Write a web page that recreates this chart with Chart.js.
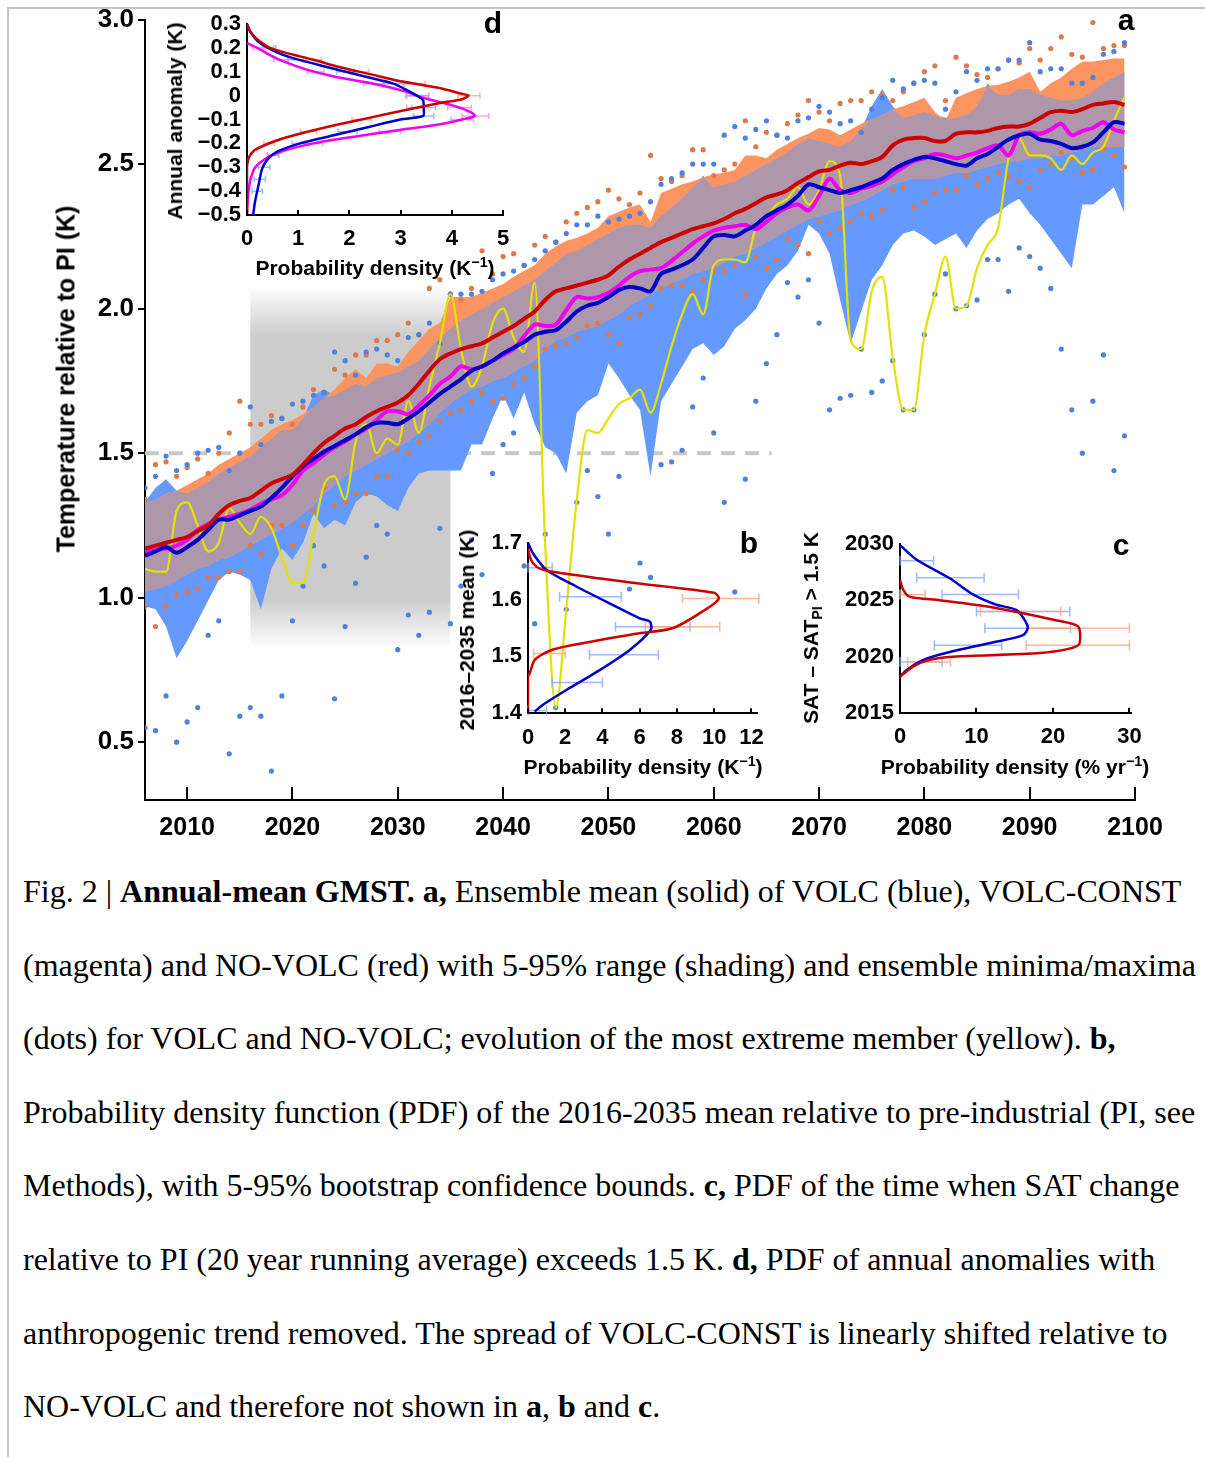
<!DOCTYPE html>
<html>
<head>
<meta charset="utf-8">
<script src="https://cdn.jsdelivr.net/npm/chart.js@4.4.0/dist/chart.umd.min.js"></script>
<style>
  body { margin: 0; background: #fff; width: 1205px; height: 1457px; position: relative; overflow: hidden; font-family: "Liberation Sans", Arial, sans-serif; }
  .frame-top { position: absolute; left: 7px; top: 7px; width: 1198px; height: 2px; background: #c4c4c4; }
  .frame-left { position: absolute; left: 7px; top: 7px; width: 2px; height: 1450px; background: #c4c4c4; }
  canvas { position: absolute; }
  .lbl { position: absolute; font-weight: bold; color: #000; white-space: nowrap; transform: translate(-50%, -50%); }
  .rot { transform: translate(-50%, -50%) rotate(-90deg); }
  .lbl sup { font-size: 0.68em; vertical-align: 0.55em; line-height: 0; }
  .lbl sub { font-size: 0.68em; vertical-align: -0.25em; line-height: 0; }
  .caption { position: absolute; left: 23px; top: 855px; font-family: "Liberation Serif", "Times New Roman", serif; font-size: 32px; line-height: 73.6px; white-space: nowrap; color: #000; }
</style>
</head>
<body>
<div class="frame-top"></div>
<div class="frame-left"></div>

<canvas id="main" width="1205" height="850" style="left:0;top:0"></canvas>
<canvas id="insetD" width="360" height="260" style="left:180px;top:0"></canvas>
<canvas id="insetB" width="320" height="240" style="left:460px;top:520px"></canvas>
<canvas id="insetC" width="340" height="240" style="left:820px;top:520px"></canvas>

<div class="lbl rot" style="left:66px;top:379px;font-size:25px">Temperature relative to PI (K)</div>
<div class="lbl" style="left:1126px;top:20px;font-size:30px">a</div>

<div class="lbl" style="left:493px;top:23px;font-size:30px">d</div>
<div class="lbl rot" style="left:175px;top:121px;font-size:21px">Annual anomaly (K)</div>
<div class="lbl" style="left:375px;top:268px;font-size:21px">Probability density (K<sup>−1</sup>)</div>

<div class="lbl" style="left:749px;top:543px;font-size:30px">b</div>
<div class="lbl rot" style="left:467px;top:630px;font-size:21px">2016–2035 mean (K)</div>
<div class="lbl" style="left:643px;top:767px;font-size:21px">Probability density (K<sup>−1</sup>)</div>

<div class="lbl" style="left:1121px;top:545px;font-size:30px">c</div>
<div class="lbl rot" style="left:811px;top:628px;font-size:21px">SAT – SAT<sub>PI</sub> &gt; 1.5 K</div>
<div class="lbl" style="left:1015px;top:767px;font-size:21px">Probability density (% yr<sup>−1</sup>)</div>

<div class="caption">Fig. 2 | <b>Annual-mean GMST. a,</b> Ensemble mean (solid) of VOLC (blue), VOLC-CONST<br>(magenta) and NO-VOLC (red) with 5-95% range (shading) and ensemble minima/maxima<br>(dots) for VOLC and NO-VOLC; evolution of the most extreme member (yellow). <b>b,</b><br>Probability density function (PDF) of the 2016-2035 mean relative to pre-industrial (PI, see<br>Methods), with 5-95% bootstrap confidence bounds. <b>c,</b> PDF of the time when SAT change<br>relative to PI (20 year running average) exceeds 1.5 K. <b>d,</b> PDF of annual anomalies with<br>anthropogenic trend removed. The spread of VOLC-CONST is linearly shifted relative to<br>NO-VOLC and therefore not shown in <b>a</b>, <b>b</b> and <b>c</b>.</div>

<script>
// ---------- panel a: annual GMST (K relative to PI) ----------
const years = [2006,2007,2008,2009,2010,2011,2012,2013,2014,2015,
  2016,2017,2018,2019,2020,2021,2022,2023,2024,2025,
  2026,2027,2028,2029,2030,2031,2032,2033,2034,2035,
  2036,2037,2038,2039,2040,2041,2042,2043,2044,2045,
  2046,2047,2048,2049,2050,2051,2052,2053,2054,2055,
  2056,2057,2058,2059,2060,2061,2062,2063,2064,2065,
  2066,2067,2068,2069,2070,2071,2072,2073,2074,2075,
  2076,2077,2078,2079,2080,2081,2082,2083,2084,2085,
  2086,2087,2088,2089,2090,2091,2092,2093,2094,2095,
  2096,2097,2098,2099];

const noVolcMean = [1.17,1.18,1.19,1.20,1.21,1.23,1.25,1.29,1.32,1.335,
  1.345,1.37,1.395,1.41,1.425,1.46,1.50,1.535,1.56,1.585,
  1.60,1.625,1.645,1.66,1.675,1.70,1.74,1.785,1.825,1.845,
  1.86,1.87,1.88,1.90,1.92,1.94,1.965,1.99,2.03,2.06,
  2.07,2.08,2.09,2.10,2.115,2.145,2.17,2.19,2.21,2.23,
  2.245,2.26,2.275,2.285,2.295,2.31,2.33,2.345,2.365,2.385,
  2.395,2.41,2.435,2.455,2.475,2.48,2.495,2.505,2.50,2.51,
  2.525,2.565,2.585,2.59,2.59,2.58,2.58,2.605,2.61,2.61,
  2.615,2.625,2.63,2.63,2.64,2.66,2.68,2.685,2.68,2.69,
  2.705,2.71,2.715,2.705];

const volcMean = [1.145,1.16,1.175,1.155,1.175,1.20,1.235,1.27,1.27,1.285,
  1.30,1.315,1.345,1.38,1.42,1.455,1.48,1.505,1.525,1.545,
  1.565,1.59,1.605,1.605,1.60,1.62,1.645,1.675,1.705,1.73,
  1.755,1.785,1.80,1.82,1.845,1.865,1.885,1.91,1.92,1.925,
  1.955,1.99,2.01,2.02,2.04,2.065,2.075,2.07,2.06,2.12,
  2.135,2.15,2.17,2.21,2.25,2.255,2.25,2.27,2.29,2.32,
  2.34,2.36,2.39,2.43,2.42,2.41,2.40,2.41,2.42,2.435,
  2.45,2.48,2.50,2.515,2.525,2.52,2.51,2.50,2.495,2.52,
  2.535,2.56,2.585,2.60,2.605,2.585,2.58,2.57,2.555,2.56,
  2.575,2.61,2.645,2.64];

const volcConstMean = [1.155,1.165,1.17,1.18,1.20,1.235,1.255,1.27,1.28,1.29,
  1.305,1.325,1.34,1.355,1.39,1.44,1.465,1.495,1.52,1.54,
  1.565,1.585,1.615,1.645,1.645,1.635,1.665,1.70,1.74,1.765,
  1.80,1.79,1.80,1.82,1.84,1.86,1.905,1.945,1.94,1.945,
  1.995,2.04,2.035,2.04,2.055,2.08,2.11,2.13,2.135,2.14,
  2.165,2.195,2.225,2.25,2.27,2.28,2.285,2.29,2.275,2.30,
  2.33,2.35,2.36,2.34,2.39,2.45,2.41,2.40,2.415,2.425,
  2.44,2.465,2.49,2.51,2.52,2.535,2.53,2.52,2.53,2.54,
  2.555,2.565,2.53,2.60,2.61,2.605,2.62,2.64,2.60,2.615,
  2.625,2.645,2.62,2.61];

// 5-95% ranges
const noVolcHi = [1.33,1.34,1.36,1.37,1.39,1.41,1.43,1.46,1.48,1.50,
  1.52,1.55,1.58,1.60,1.615,1.635,1.66,1.69,1.72,1.76,
  1.79,1.76,1.81,1.81,1.80,1.85,1.89,1.93,1.95,2.04,
  2.04,2.04,2.055,2.07,2.085,2.11,2.13,2.15,2.19,2.215,
  2.235,2.245,2.26,2.28,2.32,2.335,2.35,2.36,2.30,2.40,
  2.415,2.43,2.44,2.455,2.465,2.47,2.48,2.53,2.53,2.52,
  2.55,2.57,2.59,2.605,2.625,2.62,2.60,2.62,2.64,2.655,
  2.67,2.69,2.70,2.715,2.73,2.68,2.65,2.73,2.745,2.76,
  2.77,2.775,2.785,2.80,2.82,2.75,2.78,2.80,2.83,2.855,
  2.855,2.86,2.865,2.865];

const noVolcLo = [1.02,1.03,1.04,1.06,1.08,1.10,1.11,1.13,1.14,1.16,
  1.18,1.20,1.22,1.24,1.26,1.29,1.32,1.36,1.39,1.42,
  1.44,1.46,1.48,1.50,1.52,1.54,1.57,1.60,1.64,1.67,
  1.70,1.72,1.73,1.75,1.76,1.78,1.80,1.82,1.86,1.89,
  1.90,1.92,1.93,1.94,1.96,1.98,2.01,2.03,2.05,2.07,
  2.09,2.10,2.12,2.13,2.14,2.16,2.18,2.19,2.21,2.23,
  2.25,2.27,2.29,2.31,2.32,2.33,2.34,2.36,2.37,2.39,
  2.41,2.43,2.44,2.45,2.45,2.45,2.46,2.47,2.47,2.48,
  2.49,2.50,2.51,2.51,2.52,2.52,2.53,2.53,2.54,2.55,
  2.56,2.56,2.56,2.56];

const volcHi = [1.33,1.38,1.41,1.37,1.36,1.38,1.40,1.43,1.45,1.47,
  1.49,1.52,1.55,1.58,1.58,1.62,1.70,1.72,1.70,1.72,
  1.74,1.73,1.76,1.77,1.78,1.80,1.82,1.86,1.90,1.93,
  1.96,1.98,2.00,2.02,2.04,2.06,2.08,2.10,2.13,2.16,
  2.19,2.20,2.22,2.24,2.26,2.28,2.29,2.29,2.28,2.32,
  2.35,2.38,2.42,2.46,2.42,2.43,2.44,2.46,2.48,2.50,
  2.52,2.54,2.57,2.59,2.58,2.57,2.56,2.58,2.62,2.70,
  2.76,2.70,2.66,2.67,2.68,2.67,2.66,2.66,2.67,2.70,
  2.78,2.74,2.74,2.76,2.76,2.74,2.73,2.72,2.72,2.73,
  2.75,2.78,2.80,2.82];

const volcLo = [0.97,0.96,0.90,0.79,0.85,0.92,0.99,1.06,1.09,1.08,
  1.06,0.96,1.10,1.17,1.13,1.19,1.29,1.24,1.27,1.25,
  1.33,1.36,1.35,1.32,1.30,1.38,1.43,1.44,1.44,1.44,
  1.44,1.53,1.53,1.62,1.70,1.62,1.71,1.60,1.52,1.50,
  1.43,1.64,1.68,1.70,1.81,1.76,1.70,1.65,1.42,1.68,
  1.74,1.80,1.86,1.88,1.84,1.87,1.93,1.96,2.00,2.07,
  2.12,2.15,2.20,2.29,2.26,2.19,2.03,1.88,1.99,2.10,
  2.15,2.22,2.26,2.27,2.25,2.22,2.24,2.26,2.21,2.27,
  2.31,2.33,2.36,2.38,2.33,2.29,2.24,2.19,2.14,2.36,
  2.36,2.39,2.42,2.33];

// ensemble maxima / minima (dots)
const noVolcMax = [1.34,1.46,1.47,1.42,1.45,1.48,1.43,1.50,1.57,1.68,
  1.60,1.60,1.63,1.62,1.60,1.66,1.72,1.71,1.79,1.77,
  1.84,1.84,1.89,1.89,1.91,1.95,1.91,2.07,2.10,2.05,
  2.03,2.07,2.20,2.12,2.18,2.19,2.15,2.22,2.25,2.23,
  2.30,2.33,2.35,2.37,2.41,2.38,2.36,2.40,2.53,2.45,
  2.44,2.46,2.55,2.55,2.46,2.48,2.50,2.65,2.56,2.61,
  2.60,2.64,2.67,2.72,2.68,2.65,2.71,2.72,2.72,2.75,
  2.74,2.72,2.75,2.78,2.82,2.84,2.72,2.87,2.84,2.81,
  2.80,2.83,2.86,2.85,2.90,2.86,2.90,2.94,2.88,2.87,
  2.99,2.90,2.91,2.91];

const noVolcMin = [0.97,0.90,0.97,1.01,1.02,1.03,1.07,1.07,1.09,1.09,
  1.18,1.15,1.25,1.25,1.18,1.25,1.30,1.38,1.32,1.33,
  1.36,1.36,1.42,1.42,1.51,1.50,1.54,1.56,1.61,1.64,
  1.65,1.68,1.71,1.68,1.69,1.74,1.76,1.80,1.86,1.87,
  1.88,1.90,1.94,1.95,1.91,1.88,1.97,1.98,2.01,2.07,
  2.08,2.08,2.06,2.10,2.13,2.13,2.15,2.05,2.18,2.14,
  2.17,2.24,2.22,2.19,2.30,2.26,2.28,2.30,2.33,2.32,
  2.34,2.41,2.42,2.35,2.37,2.40,2.41,2.41,2.46,2.43,
  2.45,2.47,2.46,2.44,2.42,2.48,2.50,2.54,2.52,2.47,
  2.48,2.55,2.53,2.49];

const volcMax = [1.38,1.42,1.49,1.44,1.46,1.50,1.51,1.52,1.44,1.50,
  1.66,1.53,1.61,1.62,1.67,1.68,1.70,1.71,1.85,1.82,
  1.77,1.85,1.86,1.84,1.82,1.90,1.91,1.95,1.88,2.05,
  2.05,2.05,2.06,2.10,2.12,2.13,2.15,2.17,2.20,2.23,
  2.26,2.29,2.29,2.32,2.30,2.31,2.32,2.33,2.37,2.43,
  2.45,2.47,2.50,2.50,2.50,2.60,2.63,2.59,2.62,2.65,
  2.60,2.59,2.65,2.66,2.70,2.68,2.64,2.65,2.61,2.69,
  2.73,2.79,2.76,2.78,2.79,2.78,2.69,2.75,2.82,2.79,
  2.83,2.83,2.86,2.86,2.92,2.82,2.83,2.83,2.78,2.78,
  2.80,2.88,2.89,2.92];

const volcMin = [0.55,0.54,0.66,0.50,0.57,0.62,0.87,0.92,0.46,0.59,
  0.62,0.59,0.40,0.66,0.92,1.04,1.18,1.11,0.65,0.90,
  1.05,1.14,1.25,1.22,0.82,0.94,0.87,0.95,1.24,0.91,
  1.04,1.20,1.08,1.43,1.53,1.57,1.11,0.91,1.22,0.62,
  0.96,1.33,1.44,1.35,1.22,1.42,1.03,1.12,1.07,1.46,
  1.47,1.51,1.66,1.76,1.57,1.33,1.02,1.41,1.68,1.81,
  1.91,2.09,2.04,2.10,1.95,1.65,1.69,1.70,1.86,1.71,
  1.75,1.82,1.65,1.65,1.91,2.05,2.12,2.00,2.01,2.03,
  2.17,2.17,2.06,2.21,2.18,2.14,2.07,1.86,1.65,1.50,
  1.68,1.84,1.44,1.56];

// most extreme VOLC member
const extremeMember = [1.10,1.09,1.09,1.30,1.33,1.25,1.16,1.19,1.31,1.26,
  1.22,1.28,1.24,1.14,1.05,1.05,1.22,1.39,1.42,1.34,
  1.54,1.60,1.50,1.55,1.53,1.68,1.57,1.73,1.88,2.05,
  1.86,1.73,1.80,1.95,2.00,1.90,1.85,2.09,1.18,0.62,
  0.96,1.34,1.58,1.57,1.62,1.67,1.69,1.72,1.64,1.74,
  1.87,1.98,2.05,1.98,2.15,2.17,2.17,2.16,2.28,2.32,
  2.36,2.38,2.42,2.36,2.41,2.51,2.46,1.89,1.86,2.06,
  2.11,1.83,1.65,1.65,1.91,2.05,2.18,2.00,2.01,2.14,
  2.22,2.28,2.52,2.59,2.53,2.53,2.52,2.48,2.53,2.50,
  2.54,2.56,2.65,2.73];

const yearTicks = [2010,2020,2030,2040,2050,2060,2070,2080,2090,2100];
const tempTicks = [0.5,1.0,1.5,2.0,2.5,3.0];
const thresholdK = 1.5;
const thresholdYears = [2006, 2065.5];
const periodYears = [2016, 2035];
const periodShadeK = [0.82, 2.08];

// ---------- panel b: PDF of 2016-2035 mean ----------
const bRedK   = [1.69,1.675,1.664,1.655,1.648,1.63,1.612,1.602,1.587,1.55,1.54,1.52,1.51,1.494,1.47,1.465,1.40];
const bRedPdf = [0.0,0.1,0.27,0.6,1.5,5.5,10.0,10.25,9.75,7.8,5.8,2.4,1.16,0.36,0.09,0.0,0.0];
const bBlueK   = [1.70,1.681,1.652,1.623,1.593,1.567,1.561,1.547,1.511,1.476,1.441,1.415,1.403];
const bBluePdf = [0.0,0.27,1.0,2.6,4.4,6.0,6.55,6.6,5.45,3.85,2.06,0.8,0.36];
const bRedErrK = [1.602,1.552,1.505];
const bRedErrLo = [8.3,6.3,0.3];
const bRedErrHi = [12.4,10.3,2.0];
const bBlueErrK = [1.656,1.605,1.552,1.503,1.454,1.405];
const bBlueErrLo = [0.0,1.7,4.7,3.3,1.3,0.0];
const bBlueErrHi = [1.3,5.0,8.7,7.0,4.0,1.0];
const bPdfTicks = [0,2,4,6,8,10,12];
const bKTicks = [1.4,1.5,1.6,1.7];

// ---------- panel c: PDF of year when 1.5 K is exceeded ----------
const cBlueYear = [2029.9,2028.6,2026.95,2025.5,2024.6,2024.1,2022.65,2021.9,2021.2,2020.4,2019.7,2018.8,2018.2];
const cBluePdf  = [0.0,2.18,6.5,9.6,12.6,15.3,16.7,16.1,11.8,6.5,3.05,0.87,0.0];
const cRedYear = [2026.8,2025.9,2025.3,2025.0,2024.4,2023.2,2022.65,2021.0,2020.3,2020.0,2019.7,2019.1,2018.2];
const cRedPdf  = [0.0,0.44,1.3,5.2,11.8,20.5,23.3,23.3,18.3,7.4,3.9,1.7,0.0];
const cBlueErrYear = [2028.5,2027.0,2025.5,2024.0,2022.5,2021.0,2019.5];
const cBlueErrLo = [0,2.2,5.5,10,11.1,4.5,0];
const cBlueErrHi = [4.4,11.0,15.5,22.2,22.3,13.3,5.5];
const cRedErrYear = [2025.5,2024.0,2022.5,2021.0,2019.5];
const cRedErrLo = [0,10.5,16.7,16.5,1.0];
const cRedErrHi = [3.3,21.0,30,30,6.6];
const cPdfTicks = [0,10,20,30];
const cYearTicks = [2015,2020,2025,2030];

// ---------- panel d: PDF of detrended annual anomalies ----------
const dRedK   = [0.30,0.28,0.26,0.24,0.22,0.20,0.18,0.15,0.12,0.09,0.06,0.03,0.01,0.00,-0.015,-0.03,-0.06,-0.09,-0.12,-0.15,-0.17,-0.19,-0.21,-0.23,-0.25,-0.27,-0.30,-0.40,-0.50];
const dRedPdf = [0.00,0.03,0.09,0.18,0.30,0.45,0.75,1.30,1.80,2.40,3.00,3.80,4.15,4.33,4.20,3.80,3.10,2.45,1.80,1.20,0.85,0.55,0.32,0.14,0.06,0.02,0.00,0.00,0.00];
const dMagK   = [0.22,0.20,0.17,0.14,0.11,0.08,0.05,0.02,-0.01,-0.04,-0.07,-0.085,-0.10,-0.12,-0.14,-0.16,-0.18,-0.20,-0.22,-0.24,-0.26,-0.30,-0.35,-0.40,-0.45,-0.50];
const dMagPdf = [0.00,0.20,0.45,0.75,1.15,1.70,2.47,3.05,3.45,4.00,4.38,4.45,4.20,3.78,3.10,2.47,1.85,1.30,0.90,0.60,0.39,0.16,0.07,0.03,0.01,0.00];
const dBlueK   = [0.30,0.27,0.24,0.22,0.19,0.16,0.12,0.08,0.05,0.02,0.00,-0.02,-0.05,-0.085,-0.10,-0.13,-0.16,-0.20,-0.235,-0.27,-0.31,-0.37,-0.44,-0.50];
const dBluePdf = [0.00,0.06,0.16,0.26,0.50,0.85,1.56,2.30,2.86,3.15,3.32,3.44,3.45,3.44,3.00,2.40,1.82,1.04,0.59,0.39,0.29,0.23,0.16,0.12];
const dRedErrK = [0.2,0.15,0.1,0.05,0.0,-0.05,-0.1,-0.15,-0.2];
const dRedErrLo = [0.35,1.15,2.02,3.08,4.12,3.12,2.05,1.05,0.33];
const dRedErrHi = [0.56,1.45,2.38,3.48,4.55,3.55,2.42,1.36,0.54];
const dMagErrK = [0.2,0.15,0.1,0.05,0.0,-0.05,-0.085,-0.1,-0.15,-0.2,-0.25];
const dMagErrLo = [0.12,0.52,1.18,2.28,3.12,3.92,4.2,3.98,2.58,1.14,0.4];
const dMagErrHi = [0.3,0.8,1.5,2.68,3.55,4.38,4.72,4.42,3.0,1.48,0.62];
const dBlueErrK = [0.2,0.15,0.1,0.05,0.0,-0.05,-0.085,-0.15,-0.2,-0.25,-0.3,-0.35,-0.4];
const dBlueErrLo = [0.32,0.8,1.75,2.65,3.1,3.22,3.25,1.78,0.88,0.4,0.22,0.14,0.1];
const dBlueErrHi = [0.52,1.1,2.1,3.05,3.55,3.68,3.65,2.15,1.2,0.62,0.45,0.36,0.3];
const dPdfTicks = [0,1,2,3,4,5];
const dKTicks = [-0.5,-0.4,-0.3,-0.2,-0.1,0,0.1,0.2,0.3];

// colours
const RED = "#cc0000", BLUE = "#0000c8", MAGENTA = "#f000f0", YELLOW = "#e2e200";
const BLUE_BAND = "#6699fd", ORANGE_BAND = "#fc9462", MAUVE = "#ae97ab";
const BLUE_DOT = "#4f82de", ORANGE_DOT = "#dc7a4c";
const ERR_BLUE = "rgba(120,165,250,0.75)", ERR_RED = "rgba(252,170,130,0.85)", ERR_MAG = "rgba(245,130,245,0.75)";

Chart.defaults.font.family = '"Liberation Sans", Arial, sans-serif';
Chart.defaults.color = "#000";

const pts = (xs, ys) => xs.map((x, i) => ({ x: x, y: ys[i] }));
const pdfPts = (pdf, vals) => pdf.map((p, i) => ({ x: p, y: vals[i] })); // density on x, value on y

// overlap of the two 5-95% ranges (mauve)
const overlapLo = years.map((_, i) => Math.max(noVolcLo[i], volcLo[i]));
const overlapHi = years.map((_, i) => Math.max(overlapLo[i], Math.min(noVolcHi[i], volcHi[i])));

// grey box for 2016-2035
const greyBox = {
  id: "greyBox",
  beforeDatasetsDraw(chart) {
    const { ctx, scales: { x, y } } = chart;
    const x0 = x.getPixelForValue(periodYears[0]), x1 = x.getPixelForValue(periodYears[1]);
    const yT = y.getPixelForValue(periodShadeK[1]), yB = y.getPixelForValue(periodShadeK[0]);
    const g = ctx.createLinearGradient(0, yT, 0, yB);
    g.addColorStop(0, "rgba(204,204,204,0)");
    g.addColorStop(0.14, "rgba(204,204,204,1)");
    g.addColorStop(0.86, "rgba(204,204,204,1)");
    g.addColorStop(1, "rgba(204,204,204,0)");
    ctx.save();
    ctx.fillStyle = g;
    ctx.fillRect(x0, yT, x1 - x0, yB - yT);
    ctx.restore();
  }
};

// x ticks pointing into the plot
function inwardTicks(len) {
  return {
    id: "inwardTicks",
    afterDraw(chart) {
      const { ctx, scales: { x }, chartArea } = chart;
      ctx.save();
      ctx.strokeStyle = "#000";
      ctx.lineWidth = 2;
      x.ticks.forEach(t => {
        const px = Math.round(x.getPixelForValue(t.value));
        ctx.beginPath();
        ctx.moveTo(px, chartArea.bottom);
        ctx.lineTo(px, chartArea.bottom - len);
        ctx.stroke();
      });
      ctx.restore();
    }
  };
}

// horizontal bootstrap bounds
function errorBars(sets, cap) {
  return {
    id: "errorBars",
    beforeDatasetsDraw(chart) {
      const { ctx, scales: { x, y } } = chart;
      ctx.save();
      ctx.lineWidth = 1.5;
      sets.forEach(s => {
        ctx.strokeStyle = s.color;
        s.at.forEach((v, i) => {
          const py = y.getPixelForValue(v);
          const a = x.getPixelForValue(s.lo[i]), b = x.getPixelForValue(s.hi[i]);
          ctx.beginPath();
          ctx.moveTo(a, py); ctx.lineTo(b, py);
          ctx.moveTo(a, py - cap); ctx.lineTo(a, py + cap);
          ctx.moveTo(b, py - cap); ctx.lineTo(b, py + cap);
          ctx.stroke();
        });
      });
      ctx.restore();
    }
  };
}

const hidden = { borderWidth: 0, pointRadius: 0, fill: false };
const dots = color => ({ showLine: false, pointRadius: 2.6, pointBorderWidth: 0, pointBackgroundColor: color, borderColor: color });

new Chart(document.getElementById("main"), {
  type: "line",
  data: {
    datasets: [
      { data: pts(years, overlapLo), ...hidden, order: 20 },                                              // 0
      { data: pts(years, overlapHi), borderWidth: 0, pointRadius: 0, fill: { target: 0 }, backgroundColor: MAUVE, order: 8 },   // 1
      { data: pts(years, noVolcLo), ...hidden, order: 20 },                                               // 2
      { data: pts(years, noVolcHi), borderWidth: 0, pointRadius: 0, fill: { target: 2 }, backgroundColor: ORANGE_BAND, order: 9 }, // 3
      { data: pts(years, volcLo), ...hidden, order: 20 },                                                 // 4
      { data: pts(years, volcHi), borderWidth: 0, pointRadius: 0, fill: { target: 4 }, backgroundColor: BLUE_BAND, order: 10 },   // 5
      { data: pts(thresholdYears, [thresholdK, thresholdK]), borderColor: "#c8c8c8", borderWidth: 4, borderDash: [14, 10], pointRadius: 0, order: 15 },
      { data: pts(years, volcMax), ...dots(BLUE_DOT), order: 6 },
      { data: pts(years, volcMin), ...dots(BLUE_DOT), order: 6 },
      { data: pts(years, noVolcMax), ...dots(ORANGE_DOT), order: 6 },
      { data: pts(years, noVolcMin), ...dots(ORANGE_DOT), order: 6 },
      { data: pts(years, extremeMember), borderColor: YELLOW, borderWidth: 2.2, pointRadius: 0, cubicInterpolationMode: "monotone", order: 5 },
      { data: pts(years, volcConstMean), borderColor: MAGENTA, borderWidth: 4, pointRadius: 0, tension: 0.3, order: 3 },
      { data: pts(years, volcMean), borderColor: BLUE, borderWidth: 4, pointRadius: 0, tension: 0.3, order: 2 },
      { data: pts(years, noVolcMean), borderColor: RED, borderWidth: 4, pointRadius: 0, tension: 0.3, order: 1 }
    ]
  },
  options: {
    responsive: false,
    animation: false,
    events: [],
    layout: { padding: { left: 0, right: 70, top: 18, bottom: 0 } },
    plugins: { legend: { display: false }, tooltip: { enabled: false } },
    elements: { line: { borderJoinStyle: "round" } },
    scales: {
      x: {
        type: "linear", min: 2006, max: 2100,
        afterBuildTicks: s => { s.ticks = yearTicks.map(v => ({ value: v })); },
        afterFit: s => { s.height = 50; },
        grid: { display: false, drawTicks: false },
        border: { display: true, color: "#000", width: 2 },
        ticks: { font: { size: 25, weight: "bold" }, color: "#000", padding: 13, maxRotation: 0, autoSkip: false, callback: v => String(v) }
      },
      y: {
        min: 0.3, max: 3.0,
        afterBuildTicks: s => { s.ticks = tempTicks.map(v => ({ value: v })); },
        afterFit: s => { s.width = 145; },
        grid: { drawOnChartArea: false, drawTicks: true, tickLength: 7, color: "#000", lineWidth: 2 },
        border: { display: true, color: "#000", width: 2 },
        ticks: { font: { size: 26, weight: "bold" }, color: "#000", padding: 4, autoSkip: false, callback: v => v.toFixed(1) }
      }
    }
  },
  plugins: [greyBox, inwardTicks(13)]
});

function insetOptions(o) {
  return {
    responsive: false,
    animation: false,
    events: [],
    layout: { padding: { left: 0, right: o.right, top: o.top, bottom: 0 } },
    plugins: { legend: { display: false }, tooltip: { enabled: false } },
    scales: {
      x: {
        type: "linear", min: o.xMin, max: o.xMax,
        afterBuildTicks: s => { s.ticks = o.xTicks.map(v => ({ value: v })); },
        afterFit: s => { s.height = o.xH; },
        grid: { display: false, drawTicks: false },
        border: { display: true, color: "#000", width: 2 },
        ticks: { font: { size: 22, weight: "bold" }, color: "#000", padding: 11, maxRotation: 0, autoSkip: false, callback: v => String(v) }
      },
      y: {
        type: "linear", min: o.yMin, max: o.yMax,
        afterBuildTicks: s => { s.ticks = o.yTicks.map(v => ({ value: v })); },
        afterFit: s => { s.width = o.yW; },
        grid: { display: false, drawTicks: false },
        border: { display: true, color: "#000", width: 2 },
        ticks: { font: { size: 22, weight: "bold" }, color: "#000", padding: 6, autoSkip: false, callback: o.yFmt }
      }
    }
  };
}

const pdfLine = (color, w) => ({ borderColor: color, borderWidth: w, pointRadius: 0, tension: 0.25, fill: false });

// panel d
new Chart(document.getElementById("insetD"), {
  type: "line",
  data: {
    datasets: [
      { data: pdfPts(dRedPdf, dRedK), ...pdfLine(RED, 2.5) },
      { data: pdfPts(dBluePdf, dBlueK), ...pdfLine(BLUE, 2.5) },
      { data: pdfPts(dMagPdf, dMagK), ...pdfLine(MAGENTA, 2.5) }
    ]
  },
  options: insetOptions({
    right: 37, top: 24, xH: 45, yW: 67,
    xMin: 0, xMax: 5, xTicks: dPdfTicks,
    yMin: -0.5, yMax: 0.3, yTicks: dKTicks,
    yFmt: v => (v === 0 ? "0" : v.toFixed(1).replace("-", "\u2212"))
  }),
  plugins: [
    errorBars([
      { at: dBlueErrK, lo: dBlueErrLo, hi: dBlueErrHi, color: ERR_BLUE },
      { at: dMagErrK, lo: dMagErrLo, hi: dMagErrHi, color: ERR_MAG },
      { at: dRedErrK, lo: dRedErrLo, hi: dRedErrHi, color: ERR_RED }
    ], 3),
    inwardTicks(5)
  ]
});

// panel b
new Chart(document.getElementById("insetB"), {
  type: "line",
  data: {
    datasets: [
      { data: pdfPts(bRedPdf, bRedK), ...pdfLine(RED, 2.5) },
      { data: pdfPts(bBluePdf, bBlueK), ...pdfLine(BLUE, 2.5) }
    ]
  },
  options: insetOptions({
    right: 23, top: 22.7, xH: 46.7, yW: 68,
    xMin: 0, xMax: 12.3, xTicks: bPdfTicks,
    yMin: 1.4, yMax: 1.7, yTicks: bKTicks,
    yFmt: v => v.toFixed(1)
  }),
  plugins: [
    errorBars([
      { at: bBlueErrK, lo: bBlueErrLo, hi: bBlueErrHi, color: ERR_BLUE },
      { at: bRedErrK, lo: bRedErrLo, hi: bRedErrHi, color: ERR_RED }
    ], 5),
    inwardTicks(5)
  ]
});

// panel c
new Chart(document.getElementById("insetC"), {
  type: "line",
  data: {
    datasets: [
      { data: pdfPts(cRedPdf, cRedYear), ...pdfLine(RED, 2.5) },
      { data: pdfPts(cBluePdf, cBlueYear), ...pdfLine(BLUE, 2.5) }
    ]
  },
  options: insetOptions({
    right: 28.3, top: 24, xH: 47.3, yW: 80,
    xMin: 0, xMax: 30.3, xTicks: cPdfTicks,
    yMin: 2015, yMax: 2030, yTicks: cYearTicks,
    yFmt: v => String(v)
  }),
  plugins: [
    errorBars([
      { at: cBlueErrYear, lo: cBlueErrLo, hi: cBlueErrHi, color: ERR_BLUE },
      { at: cRedErrYear, lo: cRedErrLo, hi: cRedErrHi, color: ERR_RED }
    ], 5),
    inwardTicks(5)
  ]
});
</script>
</body>
</html>
